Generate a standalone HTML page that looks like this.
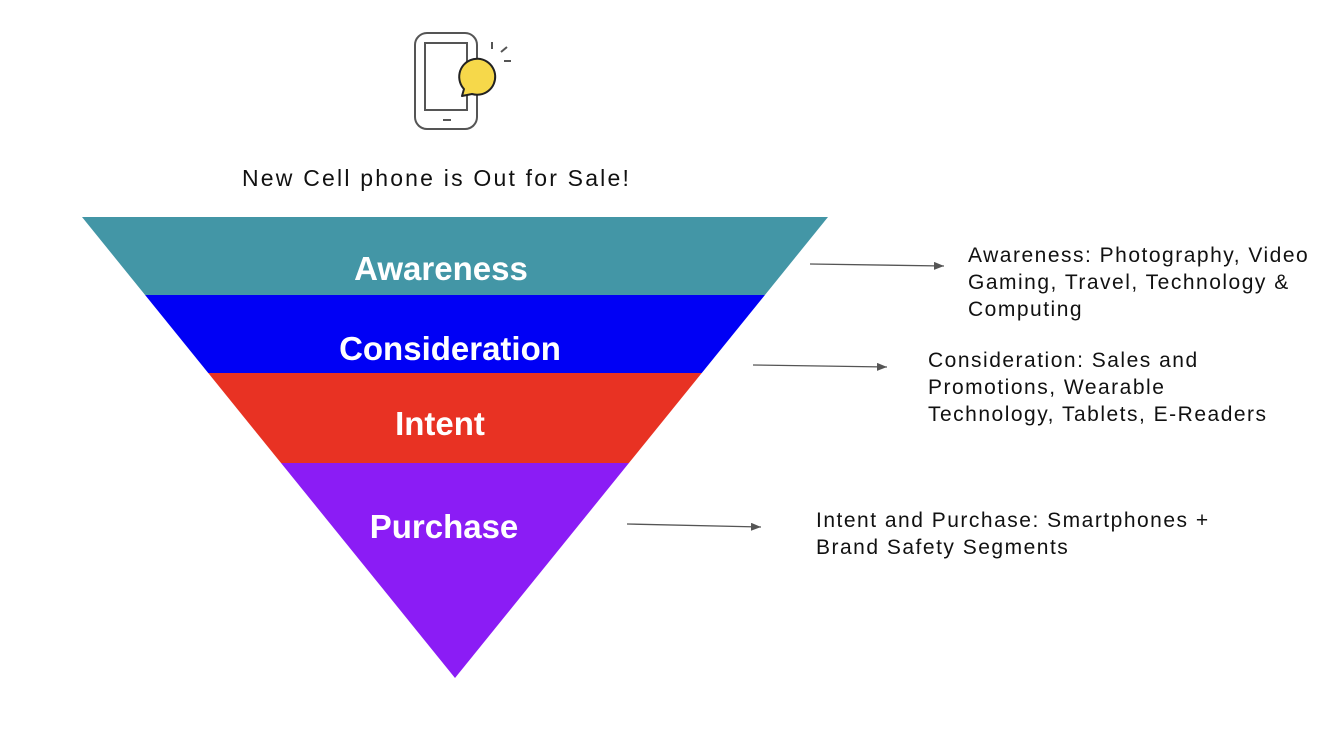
<!DOCTYPE html>
<html><head><meta charset="utf-8"><style>
body{margin:0;width:1332px;height:742px;background:#fff;overflow:hidden;font-family:"Liberation Sans",sans-serif;}
.t{position:absolute;font-size:21px;color:#111;line-height:27px;letter-spacing:1.5px;white-space:nowrap}
</style></head><body>
<svg width="1332" height="742" style="position:absolute;left:0;top:0">
<defs><clipPath id="tri"><polygon points="82,217 828,217 455,678"/></clipPath>
<marker id="ar" markerWidth="10" markerHeight="8" refX="10" refY="4" orient="auto" markerUnits="userSpaceOnUse"><polygon points="0,0 10,4 0,8" fill="#555"/></marker></defs>
<g clip-path="url(#tri)">
<rect x="0" y="217" width="900" height="78" fill="#4396a6"/>
<rect x="0" y="295" width="900" height="78" fill="#0000f5"/>
<rect x="0" y="373" width="900" height="90" fill="#e83223"/>
<rect x="0" y="463" width="900" height="220" fill="#8b1cf5"/>
</g>
<g font-family="Liberation Sans,sans-serif" font-weight="bold" font-size="33" fill="#fff" text-anchor="middle">
<text x="441" y="280">Awareness</text>
<text x="450" y="360">Consideration</text>
<text x="440" y="435">Intent</text>
<text x="444" y="538">Purchase</text>
</g>
<g stroke="#555" stroke-width="1.3" marker-end="url(#ar)">
<line x1="810" y1="264" x2="944" y2="266"/>
<line x1="753" y1="365" x2="887" y2="367"/>
<line x1="627" y1="524" x2="761" y2="527"/>
</g>
<g fill="none" stroke="#555" stroke-width="2">
<rect x="415" y="33" width="62" height="96" rx="12"/>
<rect x="425" y="43" width="42" height="67"/>
<line x1="443" y1="120" x2="451" y2="120"/>
<line x1="492" y1="42" x2="492" y2="49"/>
<line x1="501" y1="52" x2="507" y2="47"/>
<line x1="504" y1="61" x2="511" y2="61"/>
</g>
<path d="M464,89 A18,18 0 1 1 472,94 L462,96 Z" fill="#f6d84a" stroke="#222" stroke-width="2" stroke-linejoin="round"/>
</svg>
<div class="t" style="left:242px;top:165px;font-size:23px;letter-spacing:2.2px">New Cell phone is Out for Sale!</div>
<div class="t" style="left:968px;top:242px">Awareness: Photography, Video<br>Gaming, Travel, Technology &amp;<br>Computing</div>
<div class="t" style="left:928px;top:347px">Consideration: Sales and<br>Promotions, Wearable<br>Technology, Tablets, E-Readers</div>
<div class="t" style="left:816px;top:507px">Intent and Purchase: Smartphones +<br>Brand Safety Segments</div>
</body></html>
